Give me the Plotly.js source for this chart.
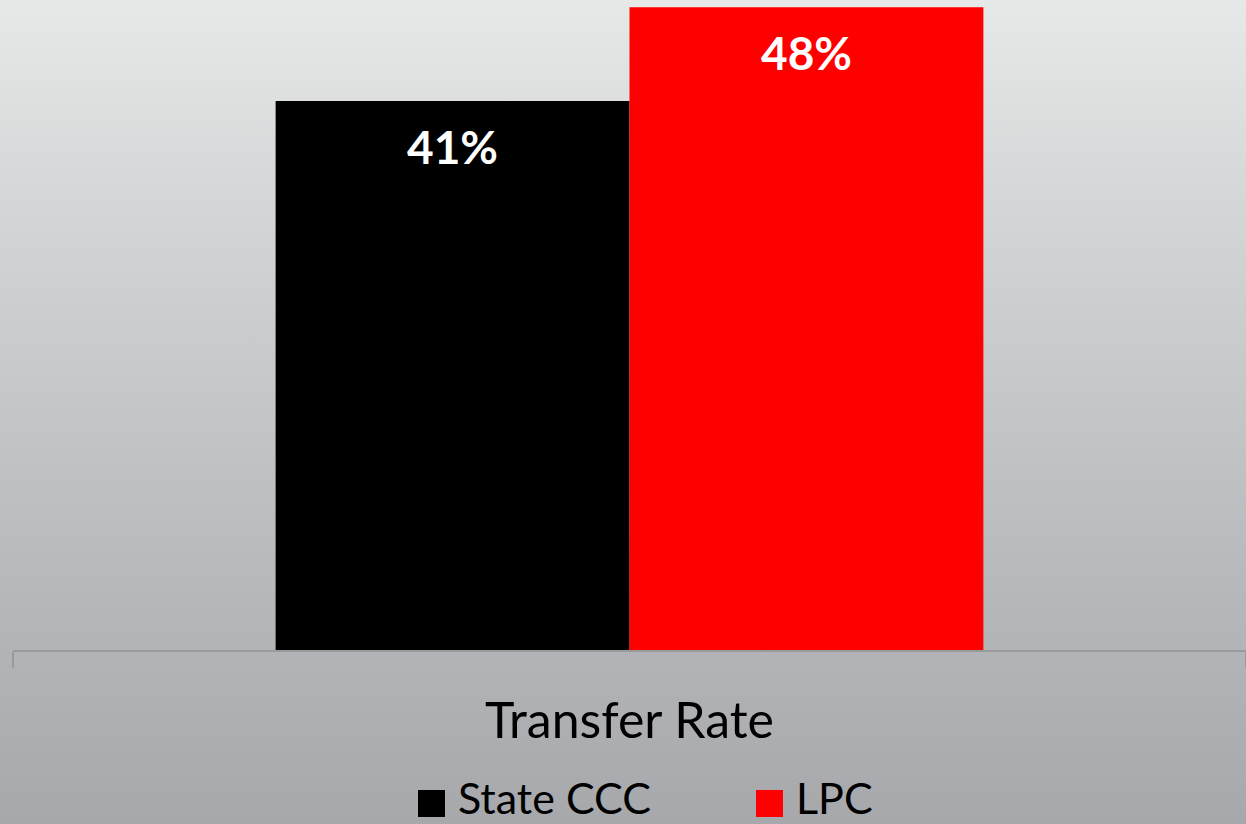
<!DOCTYPE html>
<html>
<head>
<meta charset="utf-8">
<script src="https://cdn.plot.ly/plotly-3.0.1.min.js"></script>
<style>
  html, body { margin: 0; padding: 0; }
  body { width: 1246px; height: 824px; overflow: hidden;
         background: linear-gradient(to bottom, #e7e8e8 0%, #d5d6d7 24%, #c5c6c8 49%, #b6b7ba 73%, #a7a8ac 100%); }
  #chart { width: 1246px; height: 824px; }
</style>
</head>
<body>
<div id="chart"></div>
<script>
const categories = ["Transfer Rate"];
const seriesNames = ["State CCC", "LPC"];
const stateCCC = [0.41];
const lpc = [0.48];
const seriesColors = ["#000000", "#ff0000"];

const seriesValues = [stateCCC, lpc];
const FONT = "Lato, 'Open Sans', sans-serif";

const traces = seriesValues.map((vals, i) => ({
  type: "bar",
  name: seriesNames[i],
  x: categories,
  y: vals,
  marker: { color: seriesColors[i], line: { width: 0 } },
  hoverinfo: "none",
  showlegend: false
}));

// data labels (one per bar), anchored to data values
const groupOffsets = [-177, 177];
const annotations = [];
seriesValues.forEach((vals, i) => {
  vals.forEach((v, j) => {
    annotations.push({
      x: categories[j], y: v, xref: "x", yref: "y",
      xshift: groupOffsets[i], yshift: -16,
      yanchor: "top", xanchor: "center",
      text: "<b>" + Math.round(v * 100) + "%</b>",
      showarrow: false,
      font: { family: FONT, size: 46, color: "#ffffff" }
    });
  });
});

// legend (drawn manually for large swatches)
const legendX = [418, 756];
const PW = 1233;
const shapes = [];
seriesNames.forEach((n, i) => {
  shapes.push({
    type: "rect", xref: "paper", yref: "paper",
    x0: (legendX[i] - 13) / PW, x1: (legendX[i] + 27 - 13) / PW,
    y0: -(790 - 650) / 650, y1: -(817 - 650) / 650,
    fillcolor: seriesColors[i], line: { width: 0 }
  });
  annotations.push({
    xref: "paper", yref: "paper",
    x: (legendX[i] + 39 - 13) / PW, y: -(797 - 650) / 650,
    xanchor: "left", yanchor: "middle",
    text: n, showarrow: false, borderpad: 0,
    font: { family: FONT, size: 43, color: "#000000" }
  });
});

const layout = {
  width: 1246, height: 824,
  margin: { l: 13, r: 0, t: 0, b: 174 },
  paper_bgcolor: "rgba(0,0,0,0)",
  plot_bgcolor: "rgba(0,0,0,0)",
  barmode: "group",
  bargap: 0.426,
  bargroupgap: 0,
  showlegend: false,
  xaxis: {
    type: "category",
    showline: true, linecolor: "#999a9c", linewidth: 2,
    ticks: "outside", tickson: "boundaries", ticklen: 16, tickwidth: 2, tickcolor: "#999a9c",
    showgrid: false, zeroline: false,
    tickfont: { family: FONT, size: 50, color: "#000000" },
    ticklabelstandoff: 26
  },
  yaxis: {
    range: [0, 0.4854],
    visible: false, showgrid: false, zeroline: false
  },
  shapes: shapes,
  annotations: annotations
};

Plotly.newPlot("chart", traces, layout, { displayModeBar: false, staticPlot: true });
</script>
</body>
</html>
